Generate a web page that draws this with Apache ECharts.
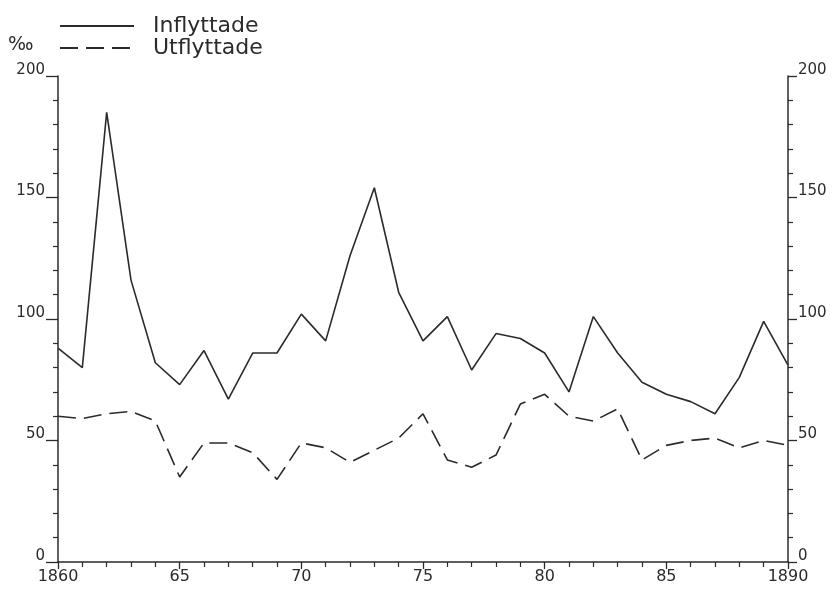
<!DOCTYPE html>
<html>
<head>
<meta charset="utf-8">
<script src="https://cdn.jsdelivr.net/npm/echarts@6/dist/echarts.min.js"></script>
<style>
html,body{margin:0;padding:0;background:#fff;}
#chart{width:832px;height:593px;}
</style>
</head>
<body>
<div id="chart"></div>
<script>
// Data (per mille)
var years = [1860,1861,1862,1863,1864,1865,1866,1867,1868,1869,1870,1871,1872,1873,1874,1875,1876,1877,1878,1879,1880,1881,1882,1883,1884,1885,1886,1887,1888,1889,1890];
var inflyttade = [88,80,185,116,82,73,87,67,86,86,102,91,126,154,111,91,101,79,94,92,86,70,101,86,74,69,66,61,76,99,81];
var utflyttade = [60,59,61,62,58,35,49,49,45,34,49,47,41,46,51,61,42,39,44,65,69,60,58,63,42,48,50,51,47,50,48];
var seriesNames = ['Inflyttade', 'Utflyttade'];
var unitLabel = '‰';
var yTicks = [0, 50, 100, 150, 200];

var ink = '#2b2b2b';
var font = 'DejaVu Sans';

function pairs(xs, ys){ return xs.map(function(x,i){ return [x, ys[i]]; }); }
function xFmt(v){ return (v === 1860 || v === 1890) ? String(v) : String(v % 100); }

var chart = echarts.init(document.getElementById('chart'));
function yAxisDef(pos, tickLen){
  return {
    type: 'value', position: pos, min: yTicks[0], max: yTicks[yTicks.length-1], interval: 50,
    axisLine: {show: true, lineStyle: {color: ink, width: 1.5}},
    axisTick: {show: true, length: tickLen, lineStyle: {color: ink, width: 1.3}},
    minorTick: {show: true, splitNumber: 5, length: 5, lineStyle: {color: ink, width: 1.2}},
    splitLine: {show: false},
    axisLabel: {color: ink, fontFamily: font, fontSize: 15, margin: tickLen + 1,
                verticalAlign: 'bottom', lineHeight: 12}
  };
}
var option = {
  backgroundColor: '#fff',
  animation: false,
  grid: {left: 58, right: 44, top: 76, bottom: 31},
  legend: {
    orient: 'vertical', left: 54, top: 10, itemWidth: 74, itemHeight: 14, itemGap: 0,
    data: seriesNames,
    itemStyle: {opacity: 0},
    textStyle: {color: ink, fontFamily: font, fontSize: 22, lineHeight: 21, padding: [0, 0, 0, 14]}
  },
  graphic: [{
    type: 'text', left: 8, top: 36,
    style: {text: unitLabel, fill: ink, font: '19px ' + font}
  }],
  xAxis: {
    type: 'value', min: 1860, max: 1890, interval: 5,
    axisLine: {show: true, onZero: false, lineStyle: {color: ink, width: 1.5}},
    axisTick: {show: true, length: 7, lineStyle: {color: ink, width: 1.3}},
    minorTick: {show: true, splitNumber: 5, length: 5, lineStyle: {color: ink, width: 1.2}},
    splitLine: {show: false},
    axisLabel: {color: ink, fontFamily: font, fontSize: 16, margin: 7, formatter: xFmt}
  },
  yAxis: [ yAxisDef('left', 12), yAxisDef('right', 9) ],
  series: [
    {name: seriesNames[0], type: 'line', data: pairs(years, inflyttade), showSymbol: false, symbol: 'none',
     lineStyle: {color: ink, width: 1.6}, itemStyle: {color: ink}},
    {name: seriesNames[1], type: 'line', data: pairs(years, utflyttade), showSymbol: false, symbol: 'none',
     lineStyle: {color: ink, width: 1.6, type: [18, 8]}, itemStyle: {color: ink}}
  ]
};
chart.setOption(option);
</script>
</body>
</html>
